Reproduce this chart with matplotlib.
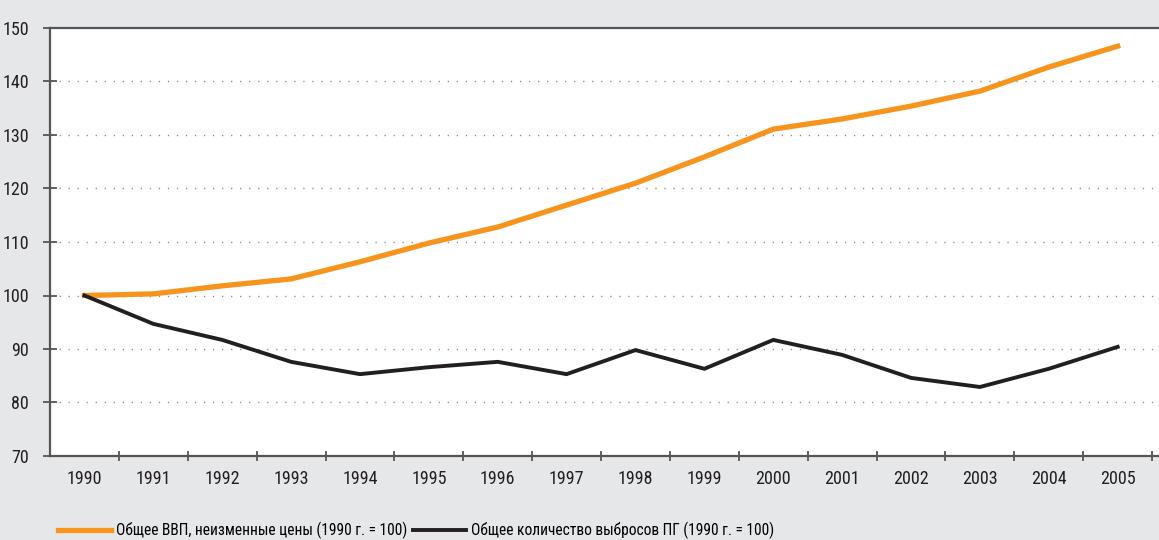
import numpy as np
import matplotlib.pyplot as plt
from matplotlib.lines import Line2D

years = [1990, 1991, 1992, 1993, 1994, 1995, 1996, 1997, 1998, 1999, 2000, 2001, 2002, 2003, 2004, 2005]
gdp = [100, 100.3, 101.8, 103.1, 106.3, 109.8, 112.8, 116.9, 121.0, 125.9, 131.1, 133.0, 135.4, 138.2, 142.7, 146.6]
ghg = [100, 94.7, 91.7, 87.6, 85.3, 86.6, 87.6, 85.3, 89.8, 86.3, 91.7, 88.9, 84.6, 82.9, 86.3, 90.4]
gdp_label = "Общее ВВП, неизменные цены (1990 г. = 100)"
ghg_label = "Общее количество выбросов ПГ (1990 г. = 100)"

plt.rcParams['font.family'] = ['Roboto Condensed', 'Liberation Sans Narrow', 'Roboto', 'DejaVu Sans']

bg = '#e6e7e9'
orange = '#f7941d'
dark = '#231f20'
axis_col = '#555555'

fig = plt.figure(figsize=(11.59, 5.4), dpi=100, facecolor=bg)
ax = fig.add_axes([50 / 1159, 1 - 456 / 540, 1 - 50 / 1159, (456 - 28) / 540])
ax.set_facecolor('white')

x = np.array(years)
ax.plot(x, gdp, color=orange, lw=3.8, solid_joinstyle='miter', zorder=3)
ax.plot(x, ghg, color=dark, lw=2.8, solid_joinstyle='miter', zorder=3)

ax.set_xlim(1989.5, 2005.6)
ax.set_ylim(70, 150)

# y axis
ax.set_yticks(range(70, 151, 10))
ax.tick_params(axis='y', direction='inout', length=10, width=1.3, color=axis_col,
               pad=10, labelsize=13, labelcolor='#231f20')
for yv in range(80, 150, 10):
    ax.axhline(yv, color='#8a8a8a', lw=1.0, linestyle=(0, (0.9, 5.6)), zorder=1)

# x axis: labels at year centres, ticks at boundaries
ax.set_xticks(years)
ax.set_xticklabels([str(y) for y in years])
ax.set_xticks(np.arange(1990.5, 2005.6, 1.0), minor=True)
ax.tick_params(axis='x', which='major', length=0, pad=10, labelsize=13, labelcolor='#231f20')
ax.tick_params(axis='x', which='minor', direction='inout', length=7, width=1.3, color=axis_col)

for side in ['left', 'bottom', 'top']:
    ax.spines[side].set_color(axis_col)
    ax.spines[side].set_linewidth(1.6)
ax.spines['right'].set_visible(False)

handles = [Line2D([], [], color=orange, lw=3.8), Line2D([], [], color=dark, lw=2.8)]
fig.legend(handles, [gdp_label, ghg_label], loc='lower left', bbox_to_anchor=(0.038, -0.024),
           ncol=2, frameon=False, fontsize=11.2, handlelength=3.4, handletextpad=0.3,
           columnspacing=0.4)

fig.savefig('out.png', dpi=100, facecolor=bg)
